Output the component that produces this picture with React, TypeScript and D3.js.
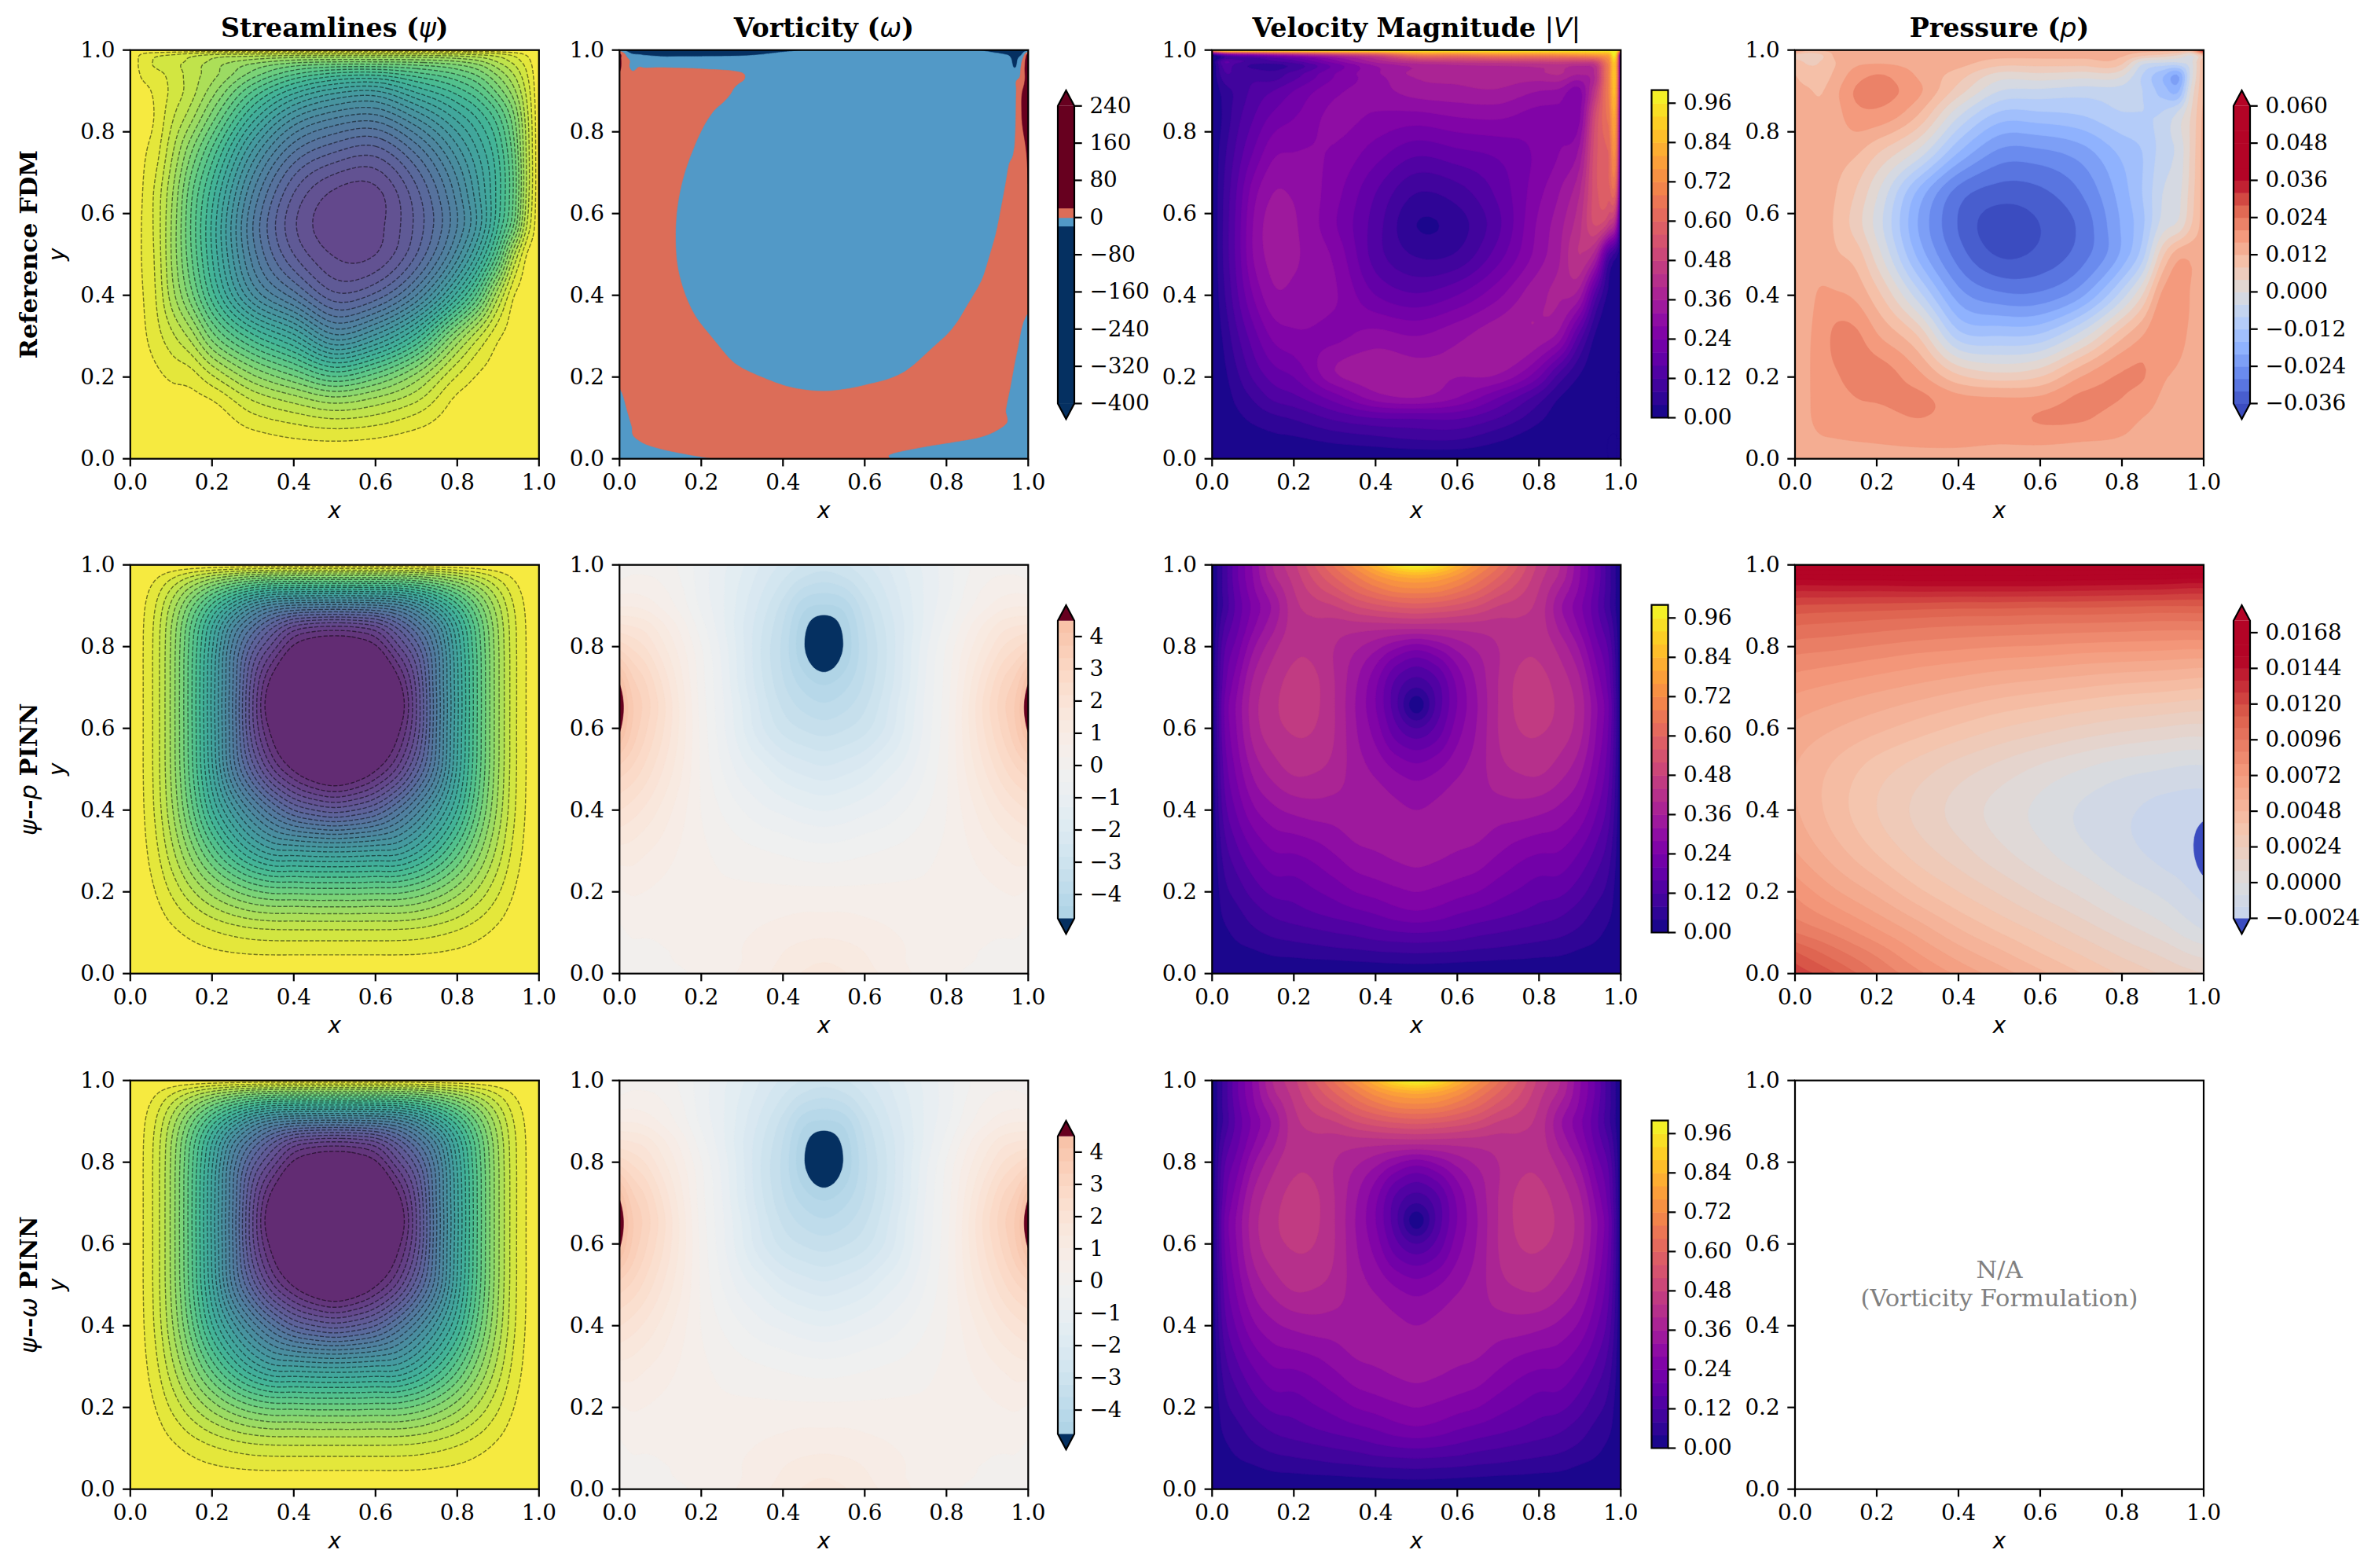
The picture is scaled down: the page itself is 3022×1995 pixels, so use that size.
import React, { useEffect, useRef } from 'react';
import * as d3 from 'd3';

// ---- reference FDM grid (stream function and pressure share it) ----
const refXs = [0, 0.03, 0.06, 0.1, 0.15, 0.2, 0.3, 0.4, 0.5, 0.6, 0.7, 0.8, 0.85, 0.9, 0.94, 0.97, 1];
const refYs = [0, 0.05, 0.1, 0.15, 0.2, 0.3, 0.4, 0.5, 0.57, 0.65, 0.75, 0.85, 0.9, 0.94, 0.97, 0.99, 1];
const refSpeedXs = [0, 0.03, 0.06, 0.1, 0.15, 0.2, 0.3, 0.4, 0.5, 0.6, 0.7, 0.8, 0.85, 0.9, 0.94, 0.97, 0.99, 1];

// psi in contour-level units, one inner array per x column
const refPsi = [
  [0, 0, 0, 0, 0, 0, 0, 0, 0, 0, 0, 0, 0, 0, 0, 0, 0],
  [0, 0.03, 0.1, 0.2, 0.35, 0.75, 0.95, 1.1, 1.1, 1, 0.8, 0.5, 0.6, 1.2, 1.45, 1.1, 0],
  [0, 0.08, 0.2, 0.4, 0.7, 1.5, 1.9, 2.1, 2.2, 2.15, 1.5, 1.05, 1.2, 1.6, 2.1, 1.5, 0],
  [0, 0.13, 0.3, 0.6, 1.15, 2.7, 4.4, 5, 5, 4.7, 3.7, 2.6, 2.2, 2.3, 2.6, 1.8, 0],
  [0, 0.15, 0.3, 0.7, 1.5, 4.5, 7.7, 9, 9.2, 8.8, 7, 4.4, 3.6, 3.5, 3.3, 2.3, 0],
  [0, 0.25, 0.4, 1.15, 2.8, 7.5, 11.5, 13, 13.2, 12.5, 10.3, 7, 5.5, 4.6, 4.3, 2.8, 0],
  [0, 0.6, 1.7, 3.3, 5.7, 11.7, 18, 20.5, 21, 20, 17.2, 12.7, 10, 7.5, 5.7, 3, 0],
  [0, 1, 2.5, 4.7, 7.8, 14.7, 21.5, 25, 25.8, 25, 22, 17, 13.5, 10, 6.8, 3.2, 0],
  [0, 1.2, 3.1, 5.9, 9.9, 18.7, 24.7, 27.1, 27.7, 27.2, 24, 19, 15.5, 11.5, 7.2, 3.2, 0],
  [0, 1, 2.7, 5, 8.3, 16.7, 23.7, 27, 27.4, 27.3, 24.6, 19.5, 16, 11.8, 7.2, 3.2, 0],
  [0, 0.55, 1.7, 3.4, 5.5, 12.5, 20, 24, 24.7, 24.3, 21.8, 17, 13.7, 10.5, 7, 3.2, 0],
  [0, 0.2, 0.45, 0.85, 1.9, 6, 13.5, 18.5, 20, 19.5, 17.5, 14, 11.5, 9, 6.3, 3, 0],
  [0, 0.12, 0.3, 0.5, 0.9, 3.3, 9.5, 14.7, 16.7, 16.3, 15, 12.3, 10, 7.8, 5.5, 2.7, 0],
  [0, 0.07, 0.2, 0.35, 0.55, 1.2, 4.2, 9.6, 12, 12.5, 12, 9.8, 7.6, 5.8, 4, 2.2, 0],
  [0, 0.05, 0.12, 0.2, 0.3, 0.5, 1, 4, 7.7, 8.6, 8.2, 6.7, 5.2, 3.9, 2.7, 1.5, 0],
  [0, 0.02, 0.06, 0.1, 0.17, 0.3, 0.45, 1, 3, 3.8, 3.8, 3.3, 2.7, 2.1, 1.5, 0.8, 0],
  [0, 0, 0, 0, 0, 0, 0, 0, 0, 0, 0, 0, 0, 0, 0, 0, 0],
];

const refSpeed = [
  [0, 0, 0, 0, 0, 0, 0, 0, 0, 0, 0, 0, 0, 0, 0, 0.1, 0.8],
  [0, 0.01, 0.015, 0.02, 0.03, 0.05, 0.075, 0.09, 0.09, 0.085, 0.07, 0.05, 0.06, 0.11, 0.16, 0.25, 1],
  [0, 0.015, 0.03, 0.05, 0.07, 0.11, 0.15, 0.17, 0.17, 0.16, 0.13, 0.1, 0.09, 0.11, 0.13, 0.3, 1],
  [0, 0.02, 0.05, 0.085, 0.125, 0.18, 0.24, 0.28, 0.28, 0.26, 0.2, 0.15, 0.13, 0.11, 0.1, 0.33, 1],
  [0, 0.03, 0.07, 0.13, 0.175, 0.25, 0.31, 0.335, 0.34, 0.32, 0.27, 0.2, 0.16, 0.1, 0.1, 0.38, 1],
  [0, 0.035, 0.085, 0.15, 0.2, 0.27, 0.31, 0.325, 0.325, 0.315, 0.28, 0.23, 0.2, 0.14, 0.13, 0.42, 1],
  [0, 0.055, 0.13, 0.22, 0.31, 0.27, 0.285, 0.27, 0.245, 0.255, 0.275, 0.29, 0.27, 0.24, 0.25, 0.5, 1],
  [0, 0.07, 0.16, 0.3, 0.345, 0.295, 0.2, 0.14, 0.14, 0.16, 0.22, 0.28, 0.3, 0.31, 0.36, 0.58, 1],
  [0, 0.085, 0.165, 0.32, 0.335, 0.28, 0.165, 0.075, 0.04, 0.08, 0.17, 0.28, 0.34, 0.37, 0.42, 0.72, 1],
  [0, 0.085, 0.165, 0.28, 0.32, 0.31, 0.2, 0.085, 0.06, 0.1, 0.19, 0.295, 0.35, 0.38, 0.44, 0.72, 1],
  [0, 0.05, 0.12, 0.2, 0.31, 0.345, 0.27, 0.18, 0.15, 0.17, 0.21, 0.3, 0.355, 0.39, 0.45, 0.75, 1],
  [0, 0.015, 0.05, 0.1, 0.2, 0.345, 0.35, 0.3, 0.29, 0.27, 0.25, 0.27, 0.32, 0.39, 0.46, 0.75, 1],
  [0, 0.005, 0.015, 0.04, 0.1, 0.3, 0.365, 0.355, 0.345, 0.32, 0.28, 0.27, 0.31, 0.4, 0.47, 0.76, 1],
  [0, 0.003, 0.005, 0.012, 0.035, 0.14, 0.33, 0.44, 0.43, 0.4, 0.335, 0.27, 0.27, 0.36, 0.46, 0.78, 1],
  [0, 0.002, 0.003, 0.005, 0.01, 0.03, 0.13, 0.36, 0.52, 0.55, 0.55, 0.52, 0.46, 0.42, 0.5, 0.8, 1],
  [0, 0, 0.001, 0.002, 0.004, 0.01, 0.03, 0.13, 0.45, 0.58, 0.6, 0.66, 0.68, 0.68, 0.7, 0.82, 1],
  [0, 0, 0, 0, 0, 0.003, 0.01, 0.05, 0.3, 0.5, 0.62, 0.68, 0.72, 0.74, 0.75, 0.85, 1],
  [0, 0, 0, 0, 0, 0, 0, 0, 0, 0, 0, 0, 0, 0, 0, 0.1, 0.8],
];

// pressure x 1000
const refPressure = [
  [14, 14, 14, 14, 14, 14, 14, 14, 14, 14, 14, 14, 13, 12, 10, 8, 20],
  [14, 15, 15.5, 15.5, 15.5, 15.5, 15, 14.5, 14.5, 14.5, 14.2, 13.5, 12.5, 10, 7.5, 6, 13],
  [14, 15.7, 16.8, 17.3, 17.5, 17.2, 16.3, 14.6, 14.3, 14.2, 14, 13, 11.5, 9.5, 8, 7.5, 13],
  [14, 16, 17.5, 18.5, 19.5, 21, 16.5, 12.5, 11.3, 12, 13.5, 14.7, 15, 13, 12, 13, 13],
  [14.3, 16.3, 18.5, 20, 21.5, 20.8, 15, 10, 6, 7.5, 12.5, 19, 20.5, 18, 15, 14, 14],
  [14.5, 16.5, 18.5, 20.5, 22, 16.5, 9.5, 2, -1.5, 0.5, 8.5, 19.5, 21.5, 20, 15.5, 14, 14],
  [14.8, 17, 20, 21, 17.5, 8, -6, -17, -20, -17, -1, 13, 17, 15.5, 14.5, 14, 14],
  [15, 16.8, 18.5, 17, 9, -10, -22, -30, -32.3, -30, -16, -2, 6, 10, 13.5, 14, 14],
  [14.5, 16.5, 17.5, 16, 6, -12, -27, -36.5, -38.5, -34, -25, -12, -4, 2.5, 10, 13.5, 14],
  [14, 17, 20.5, 16.5, 8, -11, -27, -35, -36, -33, -25, -12, -5, 3, 10, 13.5, 14],
  [14, 16.5, 20.6, 20.8, 16, -2, -21, -30, -31, -28, -22, -11, -6, 2, 10, 13.5, 14],
  [14, 15.8, 17.5, 20, 20.5, 11, -6, -19, -19.5, -18, -15, -8, -6, 1, 9, 13, 14],
  [14, 15, 16, 18, 20.3, 16, 4, -10, -13, -12, -12, -8, -8, -8, -2, 10, 14],
  [14, 14.5, 15, 15.5, 16.5, 20, 17, 7, -2, -4, -6, -8, -14, -15, -4, 8, 14],
  [14, 14, 14.5, 14.8, 15.2, 17.5, 19, 14.5, 1.5, -1, -2.5, -3.5, -16, -19, -4, 5, 14],
  [14, 14, 14, 14, 14.2, 15, 15.5, 15, 8, 6, 5, 4, 1, -2, -1, 2, 14],
  [14, 14, 14, 14, 14, 14, 14, 14, 14, 14, 14, 13, 12, 12, 12, 14, 40],
];

// reference vorticity has its own finer grid, one inner array per y row
const refOmegaXs = [0, 0.02, 0.05, 0.1, 0.15, 0.2, 0.3, 0.4, 0.5, 0.6, 0.7, 0.8, 0.88, 0.92, 0.95, 0.97, 0.985, 1];
const refOmegaYs = [0, 0.01, 0.03, 0.05, 0.08, 0.12, 0.17, 0.25, 0.35, 0.45, 0.55, 0.65, 0.75, 0.85, 0.9, 0.93, 0.96, 0.98, 0.99, 1];
const refOmega = [
  [-15, -15, -15, -13, -8, -3, 7, 15, 15, 6, -4, -14, -15, -15, -15, -15, -15, -15],
  [-15, -15, -12, -7, -2, 3, 13, 15, 15, 6, -4, -14, -15, -15, -15, -15, -15, -15],
  [-8, -6, -3, 2, 7, 12, 15, 15, 15, 15, 5, -5, -13, -15, -15, -15, -15, -15],
  [-4, -2, 1, 6, 11, 15, 15, 15, 15, 15, 15, 7, -1, -5, -8, -10, -11.5, -13],
  [-3, -1, 2, 7, 12, 15, 15, 15, 15, 15, 15, 14, 6, 2, -1, -3, -4.5, -6],
  [-2, 0.2, 3, 8, 13, 15, 10.8, 6, 4.6, 6, 9.5, 15, 7, 2.5, -0.5, -2.5, -4, -5.5],
  [-0.2, 1.8, 4.8, 10, 15, 11, 5.8, 1, -0.4, 1, 4.5, 13, 7.5, 3.5, 0.5, -1.5, -3, -4.5],
  [7, 8, 9, 13, 11, 6.5, -3, -7, -8, -7, -3.5, 5, 9, 5, 2, 0, -1.5, -3],
  [10, 12, 13, 8.5, 3.5, -1.5, -11, -15, -15, -15, -12, -4, 4, 5, 4, 2.5, 1, -0.5],
  [15, 12.6, 9.6, 4.6, -0.4, -5.4, -15, -15, -15, -15, -15, -9.2, -1.2, 2.8, 5, 7, 8.5, 10],
  [13.7, 11.7, 8.7, 3.7, -1.3, -6.3, -15, -15, -15, -15, -15, -12, -4, -0.1, 2.9, 4.9, 6.4, 7.9],
  [14.7, 12.7, 9.7, 4.7, -0.3, -5.3, -15, -15, -15, -15, -15, -14, -6, -2, 0.9, 2.9, 4.4, 19],
  [15, 15, 12.7, 7.7, 2.7, -2.3, -12.3, -15, -15, -15, -15, -15, -7.7, -3.7, -0.7, 1.3, 10, 25],
  [15, 15, 15, 13, 8, 3, -7, -15, -15, -15, -15, -15, -9, -5, -2.1, -0.1, 22, 40],
  [15, 15, 15, 15, 12.6, 7.6, -2.4, -12, -15, -15, -15, -15, -9.8, -5.8, -2.8, -0.8, 19, 40],
  [15, 6, 2.8, 2.1, 1.7, 1.3, 0.2, -4, -5, -5, -5, -5, -5, -5, -4, -1.5, 6, 40],
  [25, 2, -0.2, -0.9, -1.3, -1.7, -2.8, -5, -6, -6, -6, -6, -6, -6, -8, -19, 5, 40],
  [25, 0.2, -5, -14, -14, -14, -13, -10, -8, -7, -7, -7, -8, -10, -14, -22, -5, 40],
  [25, -10, -20, -24, -24, -24, -22, -15, -10, -9, -9, -10, -12, -15.5, -20, -24, -18, 30],
  [-10, -25, -30, -30, -30, -30, -28, -22, -15, -12, -12, -14, -18, -25, -30, -30, -30, -30],
];

// ---- PINN fields look mirror symmetric, so only the columns up to x = 0.5 are kept ----
const pinnHalfXs = [0, 0.03, 0.06, 0.1, 0.15, 0.2, 0.25, 0.3, 0.35, 0.4, 0.45, 0.5];
const pinnYs = [0, 0.03, 0.06, 0.1, 0.15, 0.2, 0.3, 0.4, 0.5, 0.6, 0.66, 0.7, 0.8, 0.85, 0.9, 0.94, 0.97, 1];

const pinnPsi = [
  [0, 0, 0, 0, 0, 0, 0, 0, 0, 0, 0, 0, 0, 0, 0, 0, 0, 0],
  [0, 0.03, 0.08, 0.14, 0.27, 0.41, 0.68, 0.87, 0.94, 0.94, 0.94, 0.94, 0.94, 0.91, 0.79, 0.58, 0.34, 0],
  [0, 0.08, 0.18, 0.34, 0.63, 0.97, 1.63, 2.1, 2.27, 2.28, 2.29, 2.29, 2.27, 2.2, 1.9, 1.39, 0.81, 0],
  [0, 0.17, 0.4, 0.74, 1.38, 2.13, 3.61, 4.69, 5.14, 5.2, 5.21, 5.2, 5.14, 4.95, 4.23, 3.06, 1.76, 0],
  [0, 0.3, 0.7, 1.31, 2.45, 3.79, 6.52, 8.67, 9.7, 9.87, 9.91, 9.89, 9.7, 9.23, 7.71, 5.49, 3.13, 0],
  [0, 0.42, 0.98, 1.84, 3.46, 5.38, 9.45, 12.9, 14.8, 15.2, 15.3, 15.25, 14.8, 13.9, 11.3, 7.9, 4.43, 0],
  [0, 0.52, 1.2, 2.26, 4.29, 6.73, 12.1, 16.5, 20.2, 20.9, 21, 20.87, 20.2, 18.6, 14.7, 10, 5.5, 0],
  [0, 0.58, 1.35, 2.55, 4.88, 7.74, 14.3, 19.5, 24.5, 26.8, 27, 26.8, 24.5, 22, 17.7, 11.7, 6.3, 0],
  [0, 0.6, 1.4, 2.67, 5.15, 8.26, 15.7, 22, 28, 30.7, 31.6, 31, 27.5, 24.8, 19.5, 12.7, 6.7, 0],
  [0, 0.6, 1.4, 2.7, 5.15, 8.3, 15.9, 24, 30.2, 32.6, 33, 32.8, 30.2, 27, 20.2, 12.9, 6.8, 0],
  [0, 0.6, 1.4, 2.7, 5.2, 8.4, 16.1, 25, 31.6, 33.1, 33.5, 33.3, 31.2, 27.8, 20.4, 13, 6.8, 0],
  [0, 0.6, 1.4, 2.7, 5.2, 8.4, 16.2, 25.5, 32.2, 33.2, 33.6, 33.4, 31.5, 28, 20.5, 13, 6.8, 0],
];

const pinnOmega = [
  [0, 0.05, 0.1, 0.2, 0.35, 0.6, 1.3, 2.2, 3.2, 4.6, 4.85, 4.6, 2.8, 1.9, 1, 0.5, 0.2, 0],
  [0.1, 0.15, 0.2, 0.3, 0.45, 0.7, 1.25, 2, 2.9, 3.7, 3.8, 3.6, 2.5, 1.8, 1, 0.55, 0.3, 0.1],
  [0.1, 0.15, 0.2, 0.3, 0.45, 0.65, 1.1, 1.75, 2.5, 3.1, 3.25, 3.1, 2.2, 1.65, 0.9, 0.5, 0.3, 0.1],
  [0.1, 0.2, 0.25, 0.3, 0.4, 0.55, 0.9, 1.35, 1.9, 2.35, 2.45, 2.3, 1.6, 1.2, 0.6, 0.35, 0.2, 0.1],
  [0.2, 0.3, 0.3, 0.35, 0.4, 0.45, 0.6, 0.8, 1.1, 1.3, 1.3, 1.2, 0.8, 0.5, 0.1, -0.05, -0.15, -0.2],
  [0.4, 0.4, 0.4, 0.4, 0.4, 0.4, 0.35, 0.25, 0.2, 0.15, 0.1, 0.05, -0.1, -0.35, -0.6, -0.7, -0.7, -0.7],
  [0.55, 0.55, 0.5, 0.5, 0.45, 0.35, 0.15, -0.15, -0.5, -0.75, -0.8, -0.85, -1, -1.15, -1.2, -1.2, -1.2, -1.15],
  [0.7, 0.65, 0.65, 0.6, 0.5, 0.35, 0, -0.5, -1.1, -1.6, -1.7, -1.85, -1.95, -2, -1.9, -1.8, -1.7, -1.6],
  [0.95, 0.85, 0.8, 0.7, 0.55, 0.35, -0.1, -0.8, -1.5, -2.4, -2.6, -2.75, -2.9, -2.8, -2.6, -2.4, -2.25, -2.1],
  [1.2, 1.1, 1, 0.8, 0.6, 0.35, -0.2, -1, -1.95, -2.95, -3.3, -3.5, -3.7, -3.6, -3.35, -3, -2.75, -2.5],
  [1.45, 1.3, 1.15, 0.9, 0.65, 0.35, -0.3, -1.2, -2.2, -3.25, -3.75, -4.05, -4.7, -4.6, -4.2, -3.65, -3.2, -2.85],
  [1.6, 1.4, 1.2, 0.95, 0.65, 0.35, -0.35, -1.3, -2.35, -3.4, -3.95, -4.3, -5.3, -5.1, -4.4, -3.85, -3.4, -3],
];

const pinnSpeed = [
  [0, 0, 0, 0, 0, 0, 0, 0, 0, 0, 0, 0, 0, 0, 0, 0, 0, 0],
  [0, 0.009, 0.018, 0.03, 0.05, 0.065, 0.1, 0.14, 0.17, 0.195, 0.2, 0.185, 0.15, 0.12, 0.09, 0.095, 0.095, 0.095],
  [0, 0.015, 0.03, 0.05, 0.07, 0.095, 0.15, 0.205, 0.25, 0.28, 0.285, 0.27, 0.215, 0.185, 0.17, 0.18, 0.19, 0.19],
  [0, 0.02, 0.04, 0.07, 0.1, 0.135, 0.2, 0.27, 0.33, 0.375, 0.38, 0.37, 0.31, 0.27, 0.25, 0.27, 0.28, 0.285],
  [0, 0.028, 0.055, 0.09, 0.13, 0.17, 0.24, 0.31, 0.38, 0.425, 0.43, 0.425, 0.385, 0.35, 0.33, 0.36, 0.39, 0.405],
  [0, 0.03, 0.062, 0.1, 0.145, 0.175, 0.245, 0.33, 0.41, 0.445, 0.46, 0.455, 0.43, 0.42, 0.425, 0.44, 0.455, 0.47],
  [0, 0.034, 0.068, 0.11, 0.16, 0.195, 0.26, 0.34, 0.405, 0.44, 0.45, 0.45, 0.43, 0.43, 0.46, 0.5, 0.53, 0.56],
  [0, 0.036, 0.075, 0.12, 0.175, 0.215, 0.285, 0.34, 0.385, 0.4, 0.4, 0.4, 0.4, 0.42, 0.48, 0.55, 0.6, 0.65],
  [0, 0.04, 0.08, 0.13, 0.19, 0.24, 0.31, 0.345, 0.34, 0.325, 0.32, 0.325, 0.37, 0.42, 0.52, 0.61, 0.67, 0.74],
  [0, 0.044, 0.088, 0.145, 0.205, 0.255, 0.32, 0.345, 0.31, 0.26, 0.24, 0.245, 0.335, 0.42, 0.55, 0.66, 0.74, 0.84],
  [0, 0.048, 0.092, 0.155, 0.225, 0.27, 0.33, 0.33, 0.275, 0.17, 0.13, 0.14, 0.29, 0.42, 0.57, 0.7, 0.79, 0.95],
  [0, 0.05, 0.095, 0.16, 0.235, 0.28, 0.335, 0.32, 0.255, 0.12, 0.015, 0.08, 0.26, 0.42, 0.58, 0.71, 0.81, 1],
];

// psi-p PINN pressure x 1000, one inner array per y row
const pinnPressureXs = [0, 0.1, 0.2, 0.3, 0.4, 0.5, 0.6, 0.7, 0.8, 0.9, 0.97, 1];
const pinnPressureYs = [0, 0.05, 0.1, 0.2, 0.3, 0.4, 0.5, 0.6, 0.7, 0.8, 0.9, 0.95, 1];
const pinnPressure = [
  [12.6, 11.2, 9.6, 8.2, 7, 6, 5, 4, 3.1, 2.3, 1.8, 1.6],
  [11.3, 9.9, 8.6, 7.2, 6, 5, 4, 3.1, 2.2, 1.4, 0.7, 0.5],
  [9.6, 8.6, 7.4, 6.2, 5, 4, 3.1, 2.2, 1.3, 0.4, -0.4, -0.7],
  [7.8, 6.5, 5.4, 4.2, 3.2, 2.3, 1.4, 0.6, -0.3, -1, -1.6, -1.9],
  [6.4, 5.1, 3.9, 2.8, 1.9, 1, 0.2, -0.6, -1.3, -1.9, -2.3, -3],
  [5.7, 4.4, 3.2, 2.2, 1.3, 0.5, -0.2, -0.9, -1.4, -1.9, -2, -2.1],
  [5.6, 4.6, 3.6, 2.8, 2, 1.3, 0.6, 0, -0.5, -0.8, -1, -1],
  [6.2, 5.6, 5, 4.4, 3.8, 3.2, 2.7, 2.2, 1.8, 1.5, 1.3, 1.3],
  [7.4, 7, 6.6, 6.2, 5.8, 5.4, 5.1, 4.8, 4.5, 4.3, 4.1, 4],
  [9.2, 9, 8.7, 8.4, 8.2, 8, 7.9, 7.7, 7.6, 7.5, 7.4, 7.4],
  [11.9, 11.8, 11.7, 11.6, 11.5, 11.5, 11.4, 11.4, 11.3, 11.2, 11.2, 11.2],
  [14.3, 14.4, 14.4, 14.5, 14.5, 14.5, 14.5, 14.4, 14.3, 14.2, 14, 14],
  [17.6, 17.6, 17.6, 17.6, 17.6, 17.6, 17.6, 17.6, 17.6, 17.6, 17.6, 17.6],
];

const columnTitles = ['Streamlines', 'Vorticity', 'Velocity Magnitude', 'Pressure'];
const axisTicks = [0, 0.2, 0.4, 0.6, 0.8, 1];
const refOmegaTicks = [240, 160, 80, 0, -80, -160, -240, -320, -400];
const pinnOmegaTicks = [4, 3, 2, 1, 0, -1, -2, -3, -4];
const speedTicks = [0, 0.12, 0.24, 0.36, 0.48, 0.6, 0.72, 0.84, 0.96];
const refPressureTicks = [60, 48, 36, 24, 12, 0, -12, -24, -36];
const pinnPressureTicks = [16.8, 14.4, 12, 9.6, 7.2, 4.8, 2.4, 0, -2.4];

const FONT = 'DejaVu Serif';
const MATH = 'DejaVu Sans';
const TICK_SIZE = 27.8;
const LINE = 2.2;
const panelLefts = [165.8, 788.3, 1542.3, 2284];
const rowTops = [63.7, 718.7, 1374.7];
const PANEL = 520;
const barLefts = [0, 1346, 2101.5, 2842];
const BAR_W = 21;
const REFINE = 6;

const blend = (c: string, a: number) => {
  const rgb = d3.rgb(c);
  return d3.rgb(rgb.r * a + 255 * (1 - a), rgb.g * a + 255 * (1 - a), rgb.b * a + 255 * (1 - a)).formatHex();
};
const rdbu = (v: number, vmax: number) => d3.interpolateRdBu(1 - Math.max(0, Math.min(1, (v + vmax) / (2 * vmax))));
const coolwarmScale = d3
  .scaleLinear<string>()
  .domain([0, 0.125, 0.25, 0.375, 0.5, 0.625, 0.75, 0.875, 1])
  .range(['#3b4cc0', '#6282ea', '#8db0fe', '#b7cff9', '#dddcdc', '#f5c4ac', '#f4987a', '#dc5e4b', '#b40426'])
  .clamp(true);
const coolwarm = (v: number, vmax: number) => coolwarmScale((v + vmax) / (2 * vmax));

const mirrorXs = (xs: number[]) => [...xs, ...xs.slice(0, -1).reverse().map((x) => 1 - x)];
const mirrorCols = (cols: number[][]) => [...cols, ...cols.slice(0, -1).reverse()];

// cubic render mesh between the grid nodes, so the contour lines do not kink at every cell
const subdivide = (xs: number[]) => {
  const out: number[] = [];
  xs.slice(0, -1).forEach((x, i) => d3.range(REFINE).forEach((k) => out.push(x + ((xs[i + 1] - x) * k) / REFINE)));
  out.push(xs[xs.length - 1]);
  return out;
};
const cubicLine = (xs: number[], vs: number[]) => {
  const n = xs.length;
  const slope = (i: number) => (vs[i + 1] - vs[i]) / (xs[i + 1] - xs[i]);
  const tangent = (i: number) => {
    if (i === 0) return slope(0);
    if (i === n - 1) return slope(n - 2);
    const a = xs[i] - xs[i - 1];
    const b = xs[i + 1] - xs[i];
    return (b * slope(i - 1) + a * slope(i)) / (a + b);
  };
  const out: number[] = [];
  for (let i = 0; i < n - 1; i++) {
    const h = xs[i + 1] - xs[i];
    const m0 = tangent(i);
    const m1 = tangent(i + 1);
    for (let k = 0; k < REFINE; k++) {
      const t = k / REFINE;
      out.push(
        (2 * t ** 3 - 3 * t ** 2 + 1) * vs[i] + (t ** 3 - 2 * t ** 2 + t) * h * m0 + (-2 * t ** 3 + 3 * t ** 2) * vs[i + 1] + (t ** 3 - t ** 2) * h * m1,
      );
    }
  }
  out.push(vs[n - 1]);
  return out;
};
const meshFromRows = (xs: number[], ys: number[], rows: number[][]) => {
  const finerX = rows.map((row) => cubicLine(xs, row));
  const finer = d3.transpose(d3.transpose(finerX).map((col: any) => cubicLine(ys, col)));
  return { xs: subdivide(xs), ys: subdivide(ys), values: finer.flat() as number[] };
};
const meshFromCols = (xs: number[], ys: number[], cols: number[][]) => meshFromRows(xs, ys, d3.transpose(cols));

// contour styles
const psiLevels = d3.range(1, 31);
const psiStyle = {
  under: blend(d3.interpolateViridis(1 - 0.5 / 31), 0.85),
  levels: psiLevels,
  fills: psiLevels.map((k) => blend(d3.interpolateViridis(1 - (k + 0.5) / 31), 0.85)),
  lines: true,
};
const refOmegaStyle = {
  under: '#053061',
  levels: [-18.3, 0, 20.5],
  fills: ['#5299c7', '#dc6d58', '#67001f'],
  over: '#67001f',
};
const pinnOmegaLevels = d3.range(25).map((i) => -4.74 + i * 0.385);
const pinnOmegaStyle = {
  under: '#053061',
  levels: pinnOmegaLevels,
  fills: [...pinnOmegaLevels.slice(0, -1).map((l) => rdbu(l + 0.19, 15)), '#67001f'],
  over: '#67001f',
};
const speedLevels = d3.range(25).map((i) => i * 0.04);
const speedStyle = {
  under: d3.interpolatePlasma(0.02),
  levels: speedLevels,
  fills: speedLevels.map((l) => d3.interpolatePlasma(l + 0.02)),
};
const refPressureLevels = d3.range(25).map((i) => -36 + i * 4);
const refPressureStyle = {
  under: '#3b4cc0',
  levels: refPressureLevels,
  fills: [...refPressureLevels.slice(0, -1).map((l) => coolwarm(l + 2, 37)), '#b40426'],
  over: '#b40426',
};
const pinnPressureLevels = d3.range(26).map((i) => -2.4 + i * 0.8);
const pinnPressureStyle = {
  under: '#3b4cc0',
  levels: pinnPressureLevels,
  fills: [...pinnPressureLevels.slice(0, -1).map((l) => coolwarm(l + 0.4, 15)), '#b40426'],
  over: '#b40426',
};

const pinnXs = mirrorXs(pinnHalfXs);
const pinnPsiGrid = meshFromCols(pinnXs, pinnYs, mirrorCols(pinnPsi));
const pinnOmegaGrid = meshFromCols(pinnXs, pinnYs, mirrorCols(pinnOmega));
const pinnSpeedGrid = meshFromCols(pinnXs, pinnYs, mirrorCols(pinnSpeed));

const panels = [
  { row: 0, col: 0, grid: meshFromCols(refXs, refYs, refPsi), style: psiStyle },
  { row: 0, col: 1, grid: meshFromRows(refOmegaXs, refOmegaYs, refOmega), style: refOmegaStyle },
  { row: 0, col: 2, grid: meshFromCols(refSpeedXs, refYs, refSpeed), style: speedStyle },
  { row: 0, col: 3, grid: meshFromCols(refXs, refYs, refPressure), style: refPressureStyle },
  { row: 1, col: 0, grid: pinnPsiGrid, style: psiStyle },
  { row: 1, col: 1, grid: pinnOmegaGrid, style: pinnOmegaStyle },
  { row: 1, col: 2, grid: pinnSpeedGrid, style: speedStyle },
  { row: 1, col: 3, grid: meshFromRows(pinnPressureXs, pinnPressureYs, pinnPressure), style: pinnPressureStyle },
  // the third row cannot be told apart from the second at this resolution
  { row: 2, col: 0, grid: pinnPsiGrid, style: psiStyle },
  { row: 2, col: 1, grid: pinnOmegaGrid, style: pinnOmegaStyle },
  { row: 2, col: 2, grid: pinnSpeedGrid, style: speedStyle },
];

const colorbars = [
  { row: 0, col: 1, domain: [-400, 240], style: refOmegaStyle, ticks: refOmegaTicks, format: d3.format('d'), extend: true },
  { row: 0, col: 2, domain: [0, 1], style: speedStyle, ticks: speedTicks, format: d3.format('.2f'), extend: false },
  { row: 0, col: 3, domain: [-36, 60], style: refPressureStyle, ticks: refPressureTicks, format: (d: number) => d3.format('.3f')(d / 1000), extend: true },
  { row: 1, col: 1, domain: [-4.74, 4.49], style: pinnOmegaStyle, ticks: pinnOmegaTicks, format: d3.format('d'), extend: true },
  { row: 1, col: 2, domain: [0, 1], style: speedStyle, ticks: speedTicks, format: d3.format('.2f'), extend: false },
  { row: 1, col: 3, domain: [-2.4, 17.6], style: pinnPressureStyle, ticks: pinnPressureTicks, format: (d: number) => d3.format('.4f')(d / 1000), extend: true },
  { row: 2, col: 1, domain: [-4.74, 4.49], style: pinnOmegaStyle, ticks: pinnOmegaTicks, format: d3.format('d'), extend: true },
  { row: 2, col: 2, domain: [0, 1], style: speedStyle, ticks: speedTicks, format: d3.format('.2f'), extend: false },
];

const smoothRing = d3.line().curve(d3.curveCatmullRomClosed.alpha(0.5));

const contourPaths = (panel: any, x: any, y: any) => {
  const { xs, ys, values } = panel.grid;
  const nx = xs.length;
  const ny = ys.length;
  const xIndex = d3.scaleLinear().domain(d3.range(nx)).range(xs).clamp(true);
  const yIndex = d3.scaleLinear().domain(d3.range(ny)).range(ys).clamp(true);
  const contours = d3.contours().size([nx, ny]).smooth(true).thresholds(panel.style.levels)(values);
  return contours.map((c: any) => {
    const parts: string[] = [];
    c.coordinates.forEach((polygon: number[][][]) => {
      polygon.forEach((ring: number[][]) => {
        const pts: [number, number][] = [];
        ring.slice(0, -1).forEach((p) => {
          const q: [number, number] = [x(xIndex(p[0] - 0.5)), y(yIndex(p[1] - 0.5))];
          const last = pts[pts.length - 1];
          if (!last || Math.abs(last[0] - q[0]) + Math.abs(last[1] - q[1]) > 0.05) pts.push(q);
        });
        if (pts.length > 2) parts.push(smoothRing(pts) as string);
      });
    });
    return parts.join('');
  });
};

const styleAxis = (g: any) => {
  g.attr('font-size', TICK_SIZE).attr('font-family', FONT);
  g.select('.domain').remove();
  g.selectAll('.tick line').attr('stroke', '#000').attr('stroke-width', LINE);
  g.selectAll('.tick text').attr('fill', '#000');
};

const drawPanelFrame = (svg: any, row: number, col: number) => {
  const left = panelLefts[col];
  const top = rowTops[row];
  const x = d3.scaleLinear().domain([0, 1]).range([left, left + PANEL]);
  const y = d3.scaleLinear().domain([0, 1]).range([top + PANEL, top]);
  const bottomAxis = d3.axisBottom(x).tickValues(axisTicks).tickFormat(d3.format('.1f') as any).tickSize(9.7).tickPadding(9.7).offset(0);
  const leftAxis = d3.axisLeft(y).tickValues(axisTicks).tickFormat(d3.format('.1f') as any).tickSize(9.7).tickPadding(9.7).offset(0);
  svg.append('g').attr('transform', `translate(0,${top + PANEL})`).call(bottomAxis).call(styleAxis);
  svg.append('g').attr('transform', `translate(${left},0)`).call(leftAxis).call(styleAxis);
  svg.append('rect').attr('x', left).attr('y', top).attr('width', PANEL).attr('height', PANEL)
    .attr('fill', 'none').attr('stroke', '#000').attr('stroke-width', LINE);
  svg.append('text').attr('x', left + PANEL / 2).attr('y', top + PANEL + 75.5).attr('text-anchor', 'middle')
    .attr('font-family', MATH).attr('font-style', 'italic').attr('font-size', TICK_SIZE).text('x');
};

const drawField = (svg: any, panel: any, index: number) => {
  const left = panelLefts[panel.col];
  const top = rowTops[panel.row];
  const x = d3.scaleLinear().domain([0, 1]).range([left, left + PANEL]);
  const y = d3.scaleLinear().domain([0, 1]).range([top + PANEL, top]);
  const clipId = `panel-clip-${index}`;
  svg.append('clipPath').attr('id', clipId).append('rect').attr('x', left).attr('y', top).attr('width', PANEL).attr('height', PANEL);
  const g = svg.append('g').attr('clip-path', `url(#${clipId})`);
  g.append('rect').attr('x', left).attr('y', top).attr('width', PANEL).attr('height', PANEL).attr('fill', panel.style.under);
  const paths = contourPaths(panel, x, y);
  paths.forEach((d: string, i: number) => {
    if (!d) return;
    g.append('path').attr('d', d).attr('fill', panel.style.fills[i]).attr('fill-rule', 'evenodd')
      .attr('stroke', panel.style.fills[i]).attr('stroke-width', 0.6);
  });
  if (panel.style.lines) {
    paths.forEach((d: string) => {
      if (!d) return;
      g.append('path').attr('d', d).attr('fill', 'none').attr('stroke', '#000').attr('stroke-opacity', 0.5)
        .attr('stroke-width', 1.4).attr('stroke-dasharray', '5.2 2.2');
    });
  }
};

const drawColorbar = (svg: any, bar: any) => {
  const top = rowTops[bar.row];
  const left = barLefts[bar.col];
  const yTop = top + (bar.extend ? 71.1 : 50.9);
  const yBottom = top + (bar.extend ? 449.7 : 467.8);
  const TIP = 19.8;
  const y = d3.scaleLinear().domain(bar.domain).range([yBottom, yTop]);
  const { levels, fills, under, over } = bar.style;
  const lo = bar.domain[0];
  const hi = bar.domain[1];
  const edges = [lo, ...levels.filter((l: number) => l > lo && l < hi), hi];
  edges.slice(0, -1).forEach((a: number, i: number) => {
    const b = edges[i + 1];
    const idx = levels.filter((l: number) => l <= a).length - 1;
    svg.append('rect').attr('x', left).attr('width', BAR_W).attr('y', y(b)).attr('height', y(a) - y(b) + 0.5)
      .attr('fill', idx < 0 ? under : fills[idx]);
  });
  if (bar.extend) {
    svg.append('path').attr('d', `M${left},${yTop}L${left + BAR_W / 2},${yTop - TIP}L${left + BAR_W},${yTop}Z`).attr('fill', over);
    svg.append('path').attr('d', `M${left},${yBottom}L${left + BAR_W / 2},${yBottom + TIP}L${left + BAR_W},${yBottom}Z`).attr('fill', under);
  }
  const outline = bar.extend
    ? `M${left},${yTop}L${left + BAR_W / 2},${yTop - TIP}L${left + BAR_W},${yTop}L${left + BAR_W},${yBottom}L${left + BAR_W / 2},${yBottom + TIP}L${left},${yBottom}Z`
    : `M${left},${yTop}L${left + BAR_W},${yTop}L${left + BAR_W},${yBottom}L${left},${yBottom}Z`;
  svg.append('path').attr('d', outline).attr('fill', 'none').attr('stroke', '#000').attr('stroke-width', LINE);
  const axis = d3.axisRight(y).tickValues(bar.ticks).tickFormat(bar.format).tickSize(9.7).tickPadding(9.7).offset(0);
  svg.append('g').attr('transform', `translate(${left + BAR_W},0)`).call(axis).call(styleAxis);
};

const addMath = (text: any, content: string) => {
  text.append('tspan').attr('font-family', MATH).attr('font-style', 'italic').attr('font-weight', 'normal').text(content);
};

const drawTexts = (svg: any) => {
  const titleMath = ['ψ', 'ω', 'V', 'p'];
  columnTitles.forEach((title, col) => {
    const t = svg.append('text').attr('x', panelLefts[col] + PANEL / 2).attr('y', 46.8).attr('text-anchor', 'middle')
      .attr('font-family', FONT).attr('font-weight', 'bold').attr('font-size', 33.3);
    if (col === 2) {
      t.append('tspan').text(`${title} `);
      t.append('tspan').attr('font-weight', 'normal').attr('font-family', MATH).text('|');
      addMath(t, titleMath[col]);
      t.append('tspan').attr('font-weight', 'normal').attr('font-family', MATH).text('|');
    } else {
      t.append('tspan').text(`${title} (`);
      addMath(t, titleMath[col]);
      t.append('tspan').text(')');
    }
  });

  const rowLabels = [
    { parts: [['Reference FDM', false]] },
    { parts: [['ψ', true], ['--', false], ['p', true], [' PINN', false]] },
    { parts: [['ψ', true], ['--', false], ['ω', true], [' PINN', false]] },
  ];
  rowLabels.forEach((label, row) => {
    const cy = rowTops[row] + PANEL / 2;
    const t = svg.append('text').attr('transform', `translate(47,${cy}) rotate(-90)`).attr('text-anchor', 'middle')
      .attr('font-family', FONT).attr('font-weight', 'bold').attr('font-size', 30.5);
    label.parts.forEach(([content, isMath]: any) => {
      if (isMath) addMath(t, content);
      else t.append('tspan').text(content);
    });
    svg.append('text').attr('transform', `translate(81.6,${cy}) rotate(-90)`).attr('text-anchor', 'middle')
      .attr('font-family', MATH).attr('font-style', 'italic').attr('font-size', TICK_SIZE).text('y');
  });

  const naX = panelLefts[3] + PANEL / 2;
  ['N/A', '(Vorticity Formulation)'].forEach((line, i) => {
    svg.append('text').attr('x', naX).attr('y', 1626 + i * 35.5).attr('text-anchor', 'middle')
      .attr('font-family', FONT).attr('font-size', 30.5).attr('fill', '#808080').text(line);
  });
};

const drawFigure = (container: SVGSVGElement) => {
  const svg = d3.select(container);
  svg.selectAll('*').remove();
  svg.append('rect').attr('width', 3022).attr('height', 1995).attr('fill', '#fff');
  panels.forEach((panel, i) => drawField(svg, panel, i));
  d3.range(3).forEach((row) => d3.range(4).forEach((col) => drawPanelFrame(svg, row, col)));
  colorbars.forEach((bar) => drawColorbar(svg, bar));
  drawTexts(svg);
};

const App: React.FC = () => {
  const svgRef = useRef<SVGSVGElement>(null);

  useEffect(() => {
    if (svgRef.current) drawFigure(svgRef.current);
  }, []);

  return <svg ref={svgRef} width={3022} height={1995} style={{ position: 'absolute', left: 0, top: 0 }} />;
};

export default App;
